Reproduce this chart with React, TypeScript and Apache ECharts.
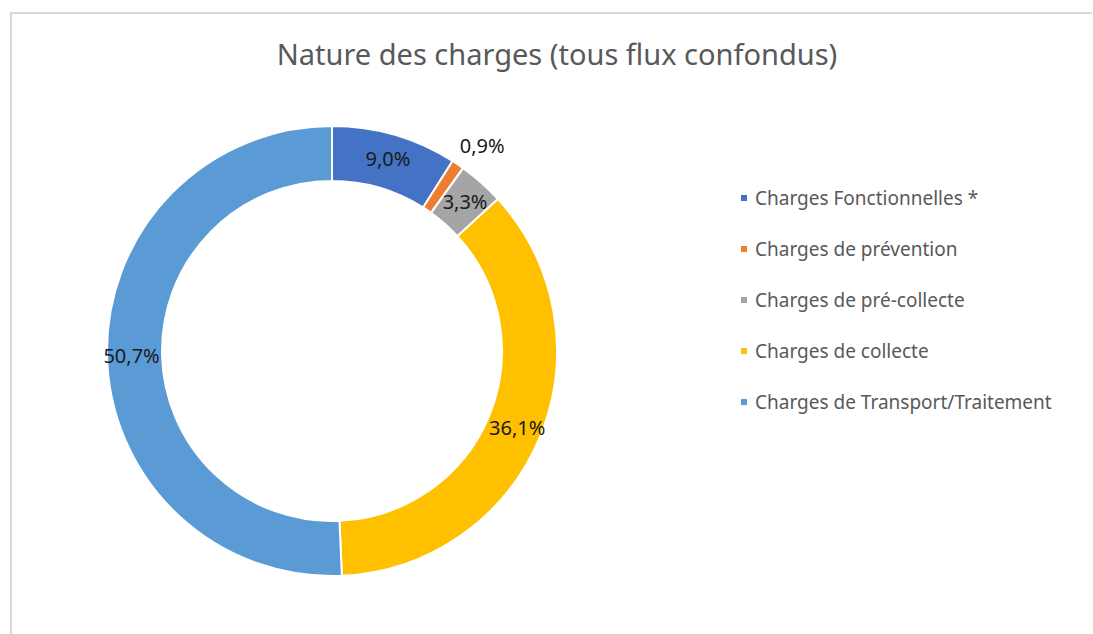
import React, { useEffect, useRef } from "react";
import * as echarts from "echarts";

const title = "Nature des charges (tous flux confondus)";
const categories = [
  "Charges Fonctionnelles *",
  "Charges de prévention",
  "Charges de pré-collecte",
  "Charges de collecte",
  "Charges de Transport/Traitement",
];
const values = [9.0, 0.9, 3.3, 36.1, 50.7];
const colors = ["#4472C4", "#ED7D31", "#A5A5A5", "#FFC000", "#5B9BD5"];

const FONT = "'Noto Sans', sans-serif";

export default function App() {
  const ref = useRef<HTMLDivElement>(null);
  useEffect(() => {
    if (!ref.current) return;
    const chart = echarts.init(ref.current, undefined, { renderer: "svg" });
    chart.setOption({
      animation: false,
      backgroundColor: "#ffffff",
      title: {
        text: title,
        left: 557,
        textAlign: "center",
        top: 39,
        padding: 0,
        textStyle: { fontFamily: FONT, fontSize: 29, fontWeight: "normal", color: "#595959" },
      },
      legend: {
        orient: "vertical",
        left: 739,
        top: 188,
        padding: 0,
        icon: "rect",
        itemWidth: 8,
        itemHeight: 8,
        itemGap: 31,
        data: categories,
        textStyle: { fontFamily: FONT, fontSize: 19, color: "#595959", lineHeight: 20, padding: [0, 0, 0, 2] },
      },
      graphic: [
        {
          type: "line",
          shape: { x1: 11, y1: 13, x2: 11, y2: 700 },
          style: { stroke: "#d9d9d9", lineWidth: 2 },
          silent: true,
        },
        {
          type: "line",
          shape: { x1: 10, y1: 13, x2: 1092, y2: 13 },
          style: { stroke: "#d9d9d9", lineWidth: 2 },
          silent: true,
        },
      ],
      series: [
        {
          type: "pie",
          center: [332, 351],
          radius: [170, 225],
          startAngle: 90,
          clockwise: true,
          avoidLabelOverlap: false,
          itemStyle: { borderColor: "#ffffff", borderWidth: 2 },
          label: {
            show: true,
            position: "inside",
            fontFamily: FONT,
            fontSize: 20,
            color: "#1a1a1a",
            formatter: (p: any) => p.value.toFixed(1).replace(".", ",") + "%",
          },
          labelLine: { show: false },
          data: categories.map((name, i) => ({
            name,
            value: values[i],
            itemStyle: { color: colors[i] },
            ...(i === 1 ? { label: { offset: [38, -39] } } : {}),
          })),
        },
      ],
    });
    return () => chart.dispose();
  }, []);
  return (
    <div
      ref={ref}
      style={{ position: "fixed", left: 0, top: 0, width: 1093, height: 634 }}
    />
  );
}
